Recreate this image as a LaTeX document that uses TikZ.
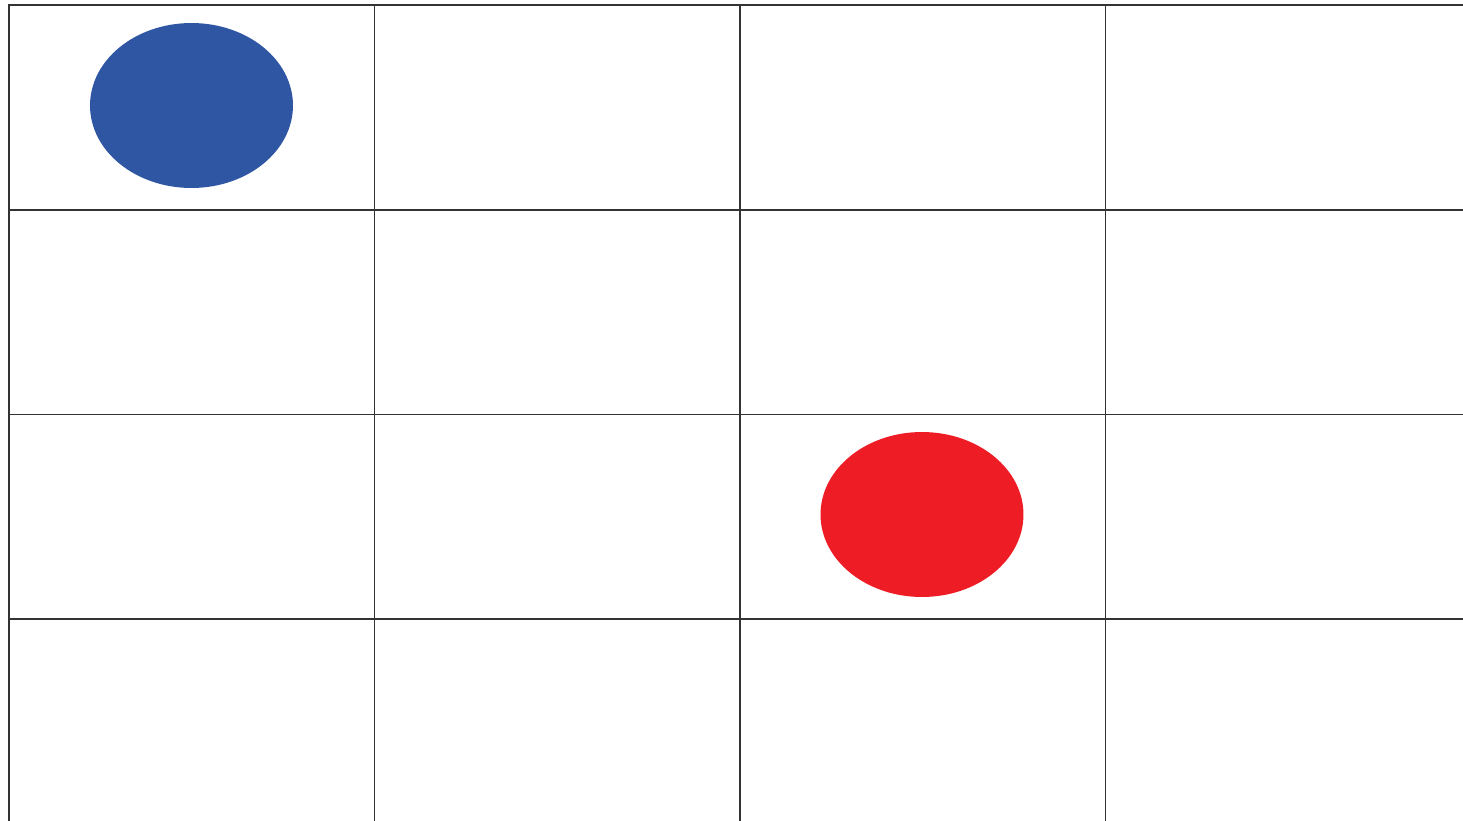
\documentclass[tikz,border=0pt]{standalone}
\usepackage{xcolor}
\usepackage{tikz}
\usetikzlibrary{shapes.geometric}
\definecolor{dotblue}{HTML}{2E56A3}
\definecolor{dotred}{HTML}{EE1D25}
\definecolor{gridgray}{HTML}{333333}

\begin{document}
\begin{tikzpicture}[
    x=0.02cm, y=-0.02cm,
    gridline/.style={draw=gridgray, line width=1.1pt, line cap=rect},
    dot/.style={ellipse, minimum width=4.06cm, minimum height=3.3cm, inner sep=0pt}
]
\useasboundingbox (0,0) rectangle (1463,821);
\begin{scope}
    \clip (0,0) rectangle (1463,821);
    \foreach \x in {9,374.5,740,1105.5}
        \draw[gridline] (\x,5) -- (\x,840);
    \foreach \y in {5,210,414.5,619}
        \draw[gridline] (9,\y) -- (1480,\y);
\end{scope}
\node[dot, fill=dotblue] (bluedot) at (191.5,105.5) {};
\node[dot, fill=dotred] (reddot) at (922,514.5) {};
\end{tikzpicture}
\end{document}
